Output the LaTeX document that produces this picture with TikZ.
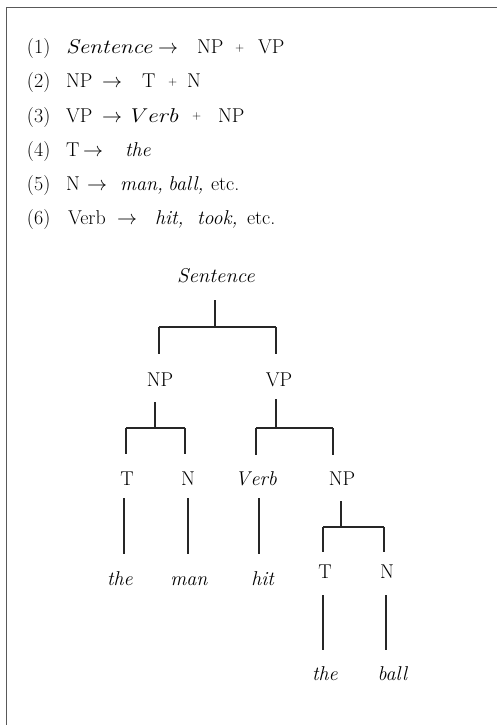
\RequirePackage{fix-cm}
\documentclass[tikz,border=0pt]{standalone}
\usepackage{graphicx}
\tikzset{
  txt/.style={inner sep=0pt, outer sep=0pt, font=\fontsize{20}{24}\selectfont},
  rt/.style={txt, anchor=base west},
  tn/.style={txt, anchor=base},
  tl/.style={line width=1.1pt, black!85},
  frameline/.style={line width=1.5pt, black!65}
}
\newcommand{\smplus}{\raisebox{2.5pt}{\fontsize{12}{12}\selectfont +}}
\newcommand{\rarr}{$\rightarrow$}
\newcommand{\wide}[2]{\scalebox{#1}[1]{#2}}
\begin{document}
\begin{tikzpicture}[x=1pt,y=-1pt]
\useasboundingbox (0,0) rectangle (497,725);
% frame
\coordinate (fTL) at (6.5,7.5);
\coordinate (fR) at (497,7.5);
\coordinate (fB) at (6.5,725);
\draw[frameline] (fR) -- (fTL) -- (fB);

% rule 1
\node[rt] (r1a) at (27,54) {(1)};
\node[rt] (r1b) at (66,54) {\wide{1.16}{\textit{Sentence}}};
\node[rt] (r1c) at (158,54) {\rarr};
\node[rt] (r1d) at (197,54) {NP};
\node[rt] (r1e) at (235,54) {\smplus};
\node[rt] (r1f) at (258,54) {VP};
% rule 2
\node[rt] (r2a) at (27,88) {(2)};
\node[rt] (r2b) at (66,88) {NP};
\node[rt] (r2c) at (102,88) {\rarr};
\node[rt] (r2d) at (142,88) {T};
\node[rt] (r2e) at (168,88) {\smplus};
\node[rt] (r2f) at (187,88) {N};
% rule 3
\node[rt] (r3a) at (27,122) {(3)};
\node[rt] (r3b) at (66,122) {VP};
\node[rt] (r3c) at (102,122) {\rarr};
\node[rt] (r3d) at (127,122) {\wide{1.2}{\textit{V\kern2pt erb}}};
\node[rt] (r3e) at (192,122) {\smplus};
\node[rt] (r3f) at (218,122) {NP};
% rule 4
\node[rt] (r4a) at (27,156) {(4)};
\node[rt] (r4b) at (66,156) {T};
\node[rt] (r4c) at (83,156) {\rarr};
\node[rt] (r4d) at (125,156) {\textit{the}};
% rule 5
\node[rt] (r5a) at (27,190) {(5)};
\node[rt] (r5b) at (66,190) {N};
\node[rt] (r5c) at (87,190) {\rarr};
\node[rt] (r5d) at (120,190) {\textit{man,}};
\node[rt] (r5e) at (168,190) {\textit{ball,}};
\node[rt] (r5f) at (211,190) {etc.};
% rule 6
\node[rt] (r6a) at (27,224) {(6)};
\node[rt] (r6b) at (68,224) {Verb};
\node[rt] (r6c) at (117,224) {\rarr};
\node[rt] (r6d) at (155,224) {\textit{hit,}};
\node[rt] (r6e) at (197,224) {\textit{took,}};
\node[rt] (r6f) at (247,224) {etc.};

% tree nodes
\node[tn] (S) at (216,282) {\wide{1.04}{\textit{Sentence}}};
\node[tn] (NPa) at (160,386) {NP};
\node[tn] (VPa) at (279,386) {VP};
\node[tn] (Ta) at (127,485) {T};
\node[tn] (Na) at (188,485) {N};
\node[tn] (Vb) at (256,485) {\textit{V\kern1pt erb}};
\node[tn] (NPb) at (342,485) {NP};
\node[tn] (thea) at (120,585) {\textit{the}};
\node[tn] (man) at (189,585) {\textit{man}};
\node[tn] (hit) at (263,585) {\textit{hit}};
\node[tn] (Tb) at (325,578) {T};
\node[tn] (Nb) at (387,578) {N};
\node[tn] (theb) at (325,680) {\textit{the}};
\node[tn] (ball) at (393,680) {\textit{ball}};

% bar coordinates
\coordinate (b1) at (215,327);  \coordinate (b1l) at (159,327); \coordinate (b1r) at (276,327);
\coordinate (b2) at (155,428);  \coordinate (b2l) at (126,428); \coordinate (b2r) at (185,428);
\coordinate (b3) at (276,428);  \coordinate (b3l) at (256,428); \coordinate (b3r) at (333,428);
\coordinate (b4) at (341,527);  \coordinate (b4l) at (323,527); \coordinate (b4r) at (384,527);
% unary line x positions
\coordinate (u1) at (124,0); \coordinate (u2) at (188,0); \coordinate (u3) at (259,0);
\coordinate (u4) at (323,0); \coordinate (u5) at (386,0);

% Sentence branch
\draw[tl, shorten <=18pt] (b1 |- S.south) -- (b1);
\draw[tl] (b1l) -- (b1r);
\draw[tl, shorten >=18pt] (b1l) -- (b1l |- NPa.north);
\draw[tl, shorten >=18pt] (b1r) -- (b1r |- VPa.north);
% NP branch
\draw[tl, shorten <=16pt] (b2 |- NPa.south) -- (b2);
\draw[tl] (b2l) -- (b2r);
\draw[tl, shorten >=17pt] (b2l) -- (b2l |- Ta.north);
\draw[tl, shorten >=17pt] (b2r) -- (b2r |- Na.north);
% VP branch
\draw[tl, shorten <=13pt] (b3 |- VPa.south) -- (b3);
\draw[tl] (b3l) -- (b3r);
\draw[tl, shorten >=16pt] (b3l) -- (b3l |- Ta.north);
\draw[tl, shorten >=16pt] (b3r) -- (b3r |- NPb.north);
% lower NP branch
\draw[tl, shorten <=16pt] (b4 |- NPb.south) -- (b4);
\draw[tl] (b4l) -- (b4r);
\draw[tl, shorten >=12pt] (b4l) -- (b4l |- Tb.north);
\draw[tl, shorten >=12pt] (b4r) -- (b4r |- Nb.north);
% unary lines
\draw[tl, shorten <=13pt, shorten >=17pt] (u1 |- Ta.south) -- (u1 |- thea.north);
\draw[tl, shorten <=13pt, shorten >=17pt] (u2 |- Na.south) -- (u2 |- thea.north);
\draw[tl, shorten <=13pt, shorten >=17pt] (u3 |- Vb.south) -- (u3 |- thea.north);
\draw[tl, shorten <=17pt, shorten >=16pt] (u4 |- Tb.south) -- (u4 |- theb.north);
\draw[tl, shorten <=17pt, shorten >=16pt] (u5 |- Nb.south) -- (u5 |- theb.north);
\end{tikzpicture}
\end{document}
